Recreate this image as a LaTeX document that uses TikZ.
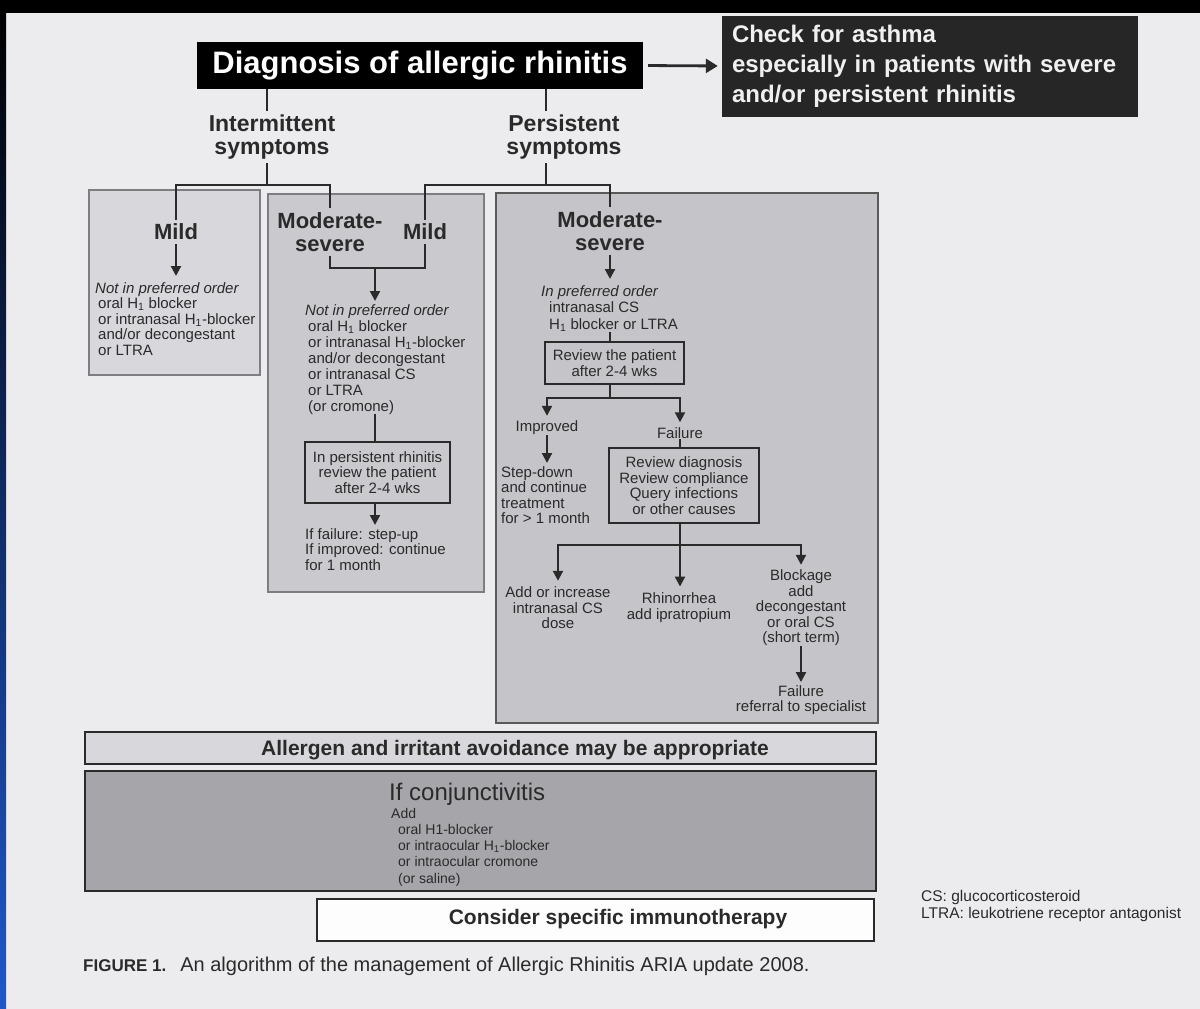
\documentclass[tikz,border=0pt]{standalone}
\usepackage{fontspec}
\setmainfont{Liberation Sans}
\usetikzlibrary{arrows.meta}

\definecolor{page}{HTML}{ECECEE}
\definecolor{ink}{HTML}{2A2A2A}
\definecolor{pane}{HTML}{D8D8DC}
\definecolor{paneb}{HTML}{CACACE}
\definecolor{panec}{HTML}{C5C5C9}
\definecolor{conjgray}{HTML}{A6A6AA}
\definecolor{rim}{HTML}{7E7E82}
\definecolor{navy}{HTML}{0B1B52}
\definecolor{barblue}{HTML}{1F58CC}

\newcommand{\sz}[2]{\fontsize{#1}{#2}\selectfont}
\newcommand{\Hone}{H\textsubscript{1}}

\tikzset{
  panel/.style={draw=rim, line width=1.4pt, inner sep=0pt},
  hdr/.style={fill=black, text=white, font=\sz{31}{34}\bfseries, inner sep=0pt},
  lbl/.style={text=ink, font=\sz{23}{21}\bfseries, align=center, inner sep=4pt},
  txt/.style={text=ink, font=\sz{15}{15.5}, align=left, inner sep=0pt},
  ctxt/.style={txt, align=center},
  revbox/.style={draw=ink, line width=1.3pt, text=ink, font=\sz{15}{15.5}, align=center, inner sep=0pt},
  conn/.style={draw=ink, line width=2.8pt},
  flow/.style={draw=ink, line width=2.1pt},
  arr/.style={flow, -{Triangle[width=10pt,length=10pt]}, shorten >=3pt},
}

\begin{document}
\begin{tikzpicture}[x=1pt,y=-1pt]
  \useasboundingbox (0,0) rectangle (1200,1009);
  \fill[page] (0,0) rectangle (1200,1009);
  \fill[black] (0,0) rectangle (1200,13);
  \shade[top color=black, middle color=navy, bottom color=barblue] (0,13) rectangle (6,1009);

  \node[panel, fill=pane, minimum width=171pt, minimum height=185pt] (boxA) at (174.5,282.5) {};
  \node[panel, fill=paneb, minimum width=216pt, minimum height=398pt] (boxB) at (376,393) {};
  \node[panel, fill=panec, draw=gray!70!black, minimum width=382pt, minimum height=530pt] (boxC) at (687,458) {};
  \node[panel, fill=pane, draw=ink, line width=2.4pt, minimum width=791pt, minimum height=32pt] (avoid) at (480.5,748) {};
  \node[panel, fill=conjgray, draw=ink, line width=2.4pt, minimum width=791pt, minimum height=120pt] (conj) at (480.5,831) {};
  \node[panel, fill=white!92!page, draw=ink, line width=2pt, minimum width=557pt, minimum height=42pt] (immuno) at (595.5,920) {};

  \node[hdr, minimum width=446pt, minimum height=47pt] (diag) at (420,65.5) {Diagnosis of allergic rhinitis};
  \node[fill=black!85, text=white!94!black, font=\sz{24}{30}\bfseries, align=left, text width=396pt,
        inner xsep=10pt, inner ysep=0pt, minimum height=101pt] (asthma) at (930,66)
       {Check for asthma\\especially in patients with severe\\and/or persistent rhinitis};
  \draw[conn, -{Triangle[width=14pt,length=12pt]}, shorten <=5pt, shorten >=4pt] (diag.east) -- (asthma.west);

  \node[lbl, font=\sz{23}{22.5}\bfseries] (inter) at (272,137) {Intermittent\\symptoms};
  \node[lbl, font=\sz{23}{22.5}\bfseries] (pers) at (564,137) {Persistent\\symptoms};
  \coordinate (ij) at (267,185);
  \coordinate (pj) at (546,185);
  \draw[conn] (diag.south -| ij) -- (inter.north -| ij);
  \draw[conn] (inter.south -| ij) -- (ij);
  \draw[conn] (diag.south -| pj) -- (pers.north -| pj);
  \draw[conn] (pers.south -| pj) -- (pj);

  \node[lbl, font=\sz{22}{20}\bfseries] (mildA) at (176,232) {Mild};
  \node[lbl, font=\sz{22}{22.5}\bfseries] (modB) at (330,232) {Moderate-\\severe};
  \node[lbl, font=\sz{22}{20}\bfseries] (mildB) at (425,232) {Mild};
  \node[lbl, font=\sz{22}{22.5}\bfseries] (modC) at (610,231) {Moderate-\\severe};
  \draw[conn] (mildA.north) |- (ij) -| (modB.north);
  \draw[conn] (mildB.north) |- (pj) -| (modC.north);

  % intermittent, mild
  \node[txt, anchor=north west] (listA) at (95,282)
       {\textit{Not in preferred order}\\\hspace*{3pt}oral \Hone\ blocker\\\hspace*{3pt}or intranasal \Hone-blocker\\\hspace*{3pt}and/or decongestant\\\hspace*{3pt}or LTRA};
  \draw[arr, shorten >=6pt] (mildA.south) -- (mildA.south |- listA.north);

  % moderate-severe intermittent or mild persistent
  \coordinate (bj) at (375,268);
  \draw[conn, line width=2.3pt] (modB.south) |- (bj) -| (mildB.south);
  \node[txt, font=\sz{15}{16}, anchor=north west] (listB) at (305,304)
       {\textit{Not in preferred order}\\\hspace*{3pt}oral \Hone\ blocker\\\hspace*{3pt}or intranasal \Hone-blocker\\\hspace*{3pt}and/or decongestant\\\hspace*{3pt}or intranasal CS\\\hspace*{3pt}or LTRA\\\hspace*{3pt}(or cromone)};
  \draw[arr] (bj) -- (listB.north -| bj);
  \node[revbox, minimum width=145pt, minimum height=61pt] (revB) at (377.5,472.5)
       {In persistent rhinitis\\review the patient\\after 2-4 wks};
  \draw[flow] (listB.south -| bj) -- (revB.north -| bj);
  \node[txt, anchor=north west] (ifB) at (305,528) {If failure: step-up\\If improved: continue\\for 1 month};
  \draw[arr] (revB.south -| bj) -- (ifB.north -| bj);

  % moderate-severe persistent
  \coordinate (cj) at (610,398);
  \node[txt, font=\sz{15}{16.5}, anchor=north west] (listC) at (541,285)
       {\textit{In preferred order}\\\hspace*{8pt}intranasal CS\\\hspace*{8pt}\Hone\ blocker or LTRA};
  \draw[arr, shorten >=6pt] (modC.south) -- (listC.north -| modC.south);
  \node[revbox, minimum width=139pt, minimum height=42pt] (revC) at (614.5,363) {Review the patient\\after 2-4 wks};
  \draw[flow] (listC.south -| cj) -- (revC.north -| cj);
  \draw[flow] (revC.south -| cj) -- (cj);
  \node[txt] (impr) at (547,428) {Improved};
  \node[txt] (fail) at (680,433) {Failure};
  \draw[arr, shorten >=5pt] (cj) -| (impr.north);
  \draw[arr, shorten >=5pt] (cj) -| (fail.north);
  \node[txt, anchor=north west] (stepd) at (501,466) {Step-down\\and continue\\treatment\\for > 1 month};
  \draw[arr] (impr.south) -- (stepd.north -| impr.south);
  \node[revbox, minimum width=150pt, minimum height=75pt] (revD) at (684,485.5)
       {Review diagnosis\\Review compliance\\Query infections\\or other causes};
  \draw[flow] (fail.south) -- (revD.north -| fail.south);
  \coordinate (dj) at (680,545);
  \draw[flow] (revD.south -| dj) -- (dj);
  \node[ctxt] (incr) at (558,608) {Add or increase\\intranasal CS\\dose};
  \node[ctxt] (rhin) at (679,607.5) {Rhinorrhea\\add ipratropium};
  \node[ctxt] (block) at (801,608) {Blockage\\add\\decongestant\\or oral CS\\(short term)};
  \draw[arr, shorten >=6pt] (dj) -| (incr.north);
  \draw[arr, shorten >=6pt] (dj) -- (rhin.north -| dj);
  \draw[arr, shorten >=5pt] (dj) -| (block.north);
  \node[ctxt] (refer) at (801,700) {Failure\\referral to specialist};
  \draw[arr] (block.south) -- (refer.north);

  % bottom bars
  \node[text=ink, font=\sz{21}{24}\bfseries] (avoidtxt) at (515,750) {Allergen and irritant avoidance may be appropriate};
  \node[anchor=north west, text=ink, font=\sz{24}{26}, inner sep=0pt] (conjhead) at (389,783) {If conjunctivitis};
  \node[txt, font=\sz{14}{16.2}, anchor=north west] (conjlist) at (391,808)
       {Add\\\hspace*{7pt}oral H1-blocker\\\hspace*{7pt}or intraocular \Hone-blocker\\\hspace*{7pt}or intraocular cromone\\\hspace*{7pt}(or saline)};
  \node[text=ink, font=\sz{21}{24}\bfseries] (immunotxt) at (618,919) {Consider specific immunotherapy};

  \node[txt, font=\sz{15.5}{17}, anchor=north west] (legend) at (921,890) {CS: glucocorticosteroid\\LTRA: leukotriene receptor antagonist};
  \node[anchor=west, text=ink, inner sep=0pt] (caption) at (83,966)
       {{\bfseries\sz{17}{20}FIGURE 1.}\hspace{14pt}{\sz{20}{22}An algorithm of the management of Allergic Rhinitis ARIA update 2008.}};
\end{tikzpicture}
\end{document}
